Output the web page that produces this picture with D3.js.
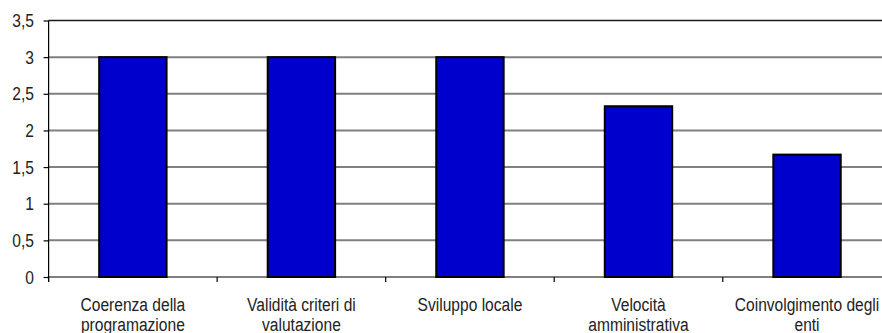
<!DOCTYPE html>
<html>
<head>
<meta charset="utf-8">
<script src="https://cdn.jsdelivr.net/npm/d3@7"></script>
<style>
  html, body { margin: 0; padding: 0; background: #fff; }
  svg { display: block; }
  text { font-family: "Liberation Sans", Arial, sans-serif; fill: #222; }
</style>
</head>
<body>
<svg id="chart" width="882" height="333"></svg>
<script>
const categories = [
  "Coerenza della\nprogramazione",
  "Validità criteri di\nvalutazione",
  "Sviluppo locale",
  "Velocità\namministrativa",
  "Coinvolgimento degli\nenti"
];
const values = [3, 3, 3, 2.33, 1.67];
const yTicks = [0, 0.5, 1, 1.5, 2, 2.5, 3, 3.5];
const yTickLabels = ["0", "0,5", "1", "1,5", "2", "2,5", "3", "3,5"];

(function () {
const svg = d3.select("#chart");
const pLeft = 48.6, pRight = 891.3, pTop = 20.5, pBottom = 277;
const SX = 0.82;      // horizontal condensing (narrow face look)
const FS = 19;

const x = d3.scaleBand().domain(categories).range([pLeft, pRight])
  .paddingInner(0.6).paddingOuter(0.3);
const y = d3.scaleLinear().domain([0, 3.5]).range([pBottom, pTop]);

// gridlines
svg.append("g").selectAll("line").data(yTicks.filter(d => d > 0))
  .join("line")
  .attr("x1", pLeft).attr("x2", 882)
  .attr("y1", d => y(d)).attr("y2", d => y(d))
  .attr("stroke", d => d === 3.5 ? "#1a1a1a" : "#808080")
  .attr("stroke-width", d => d === 3.5 ? 1.5 : 2);

// y axis
const yAxis = d3.axisLeft(y).tickValues(yTicks)
  .tickFormat((d, i) => yTickLabels[i]).tickSizeInner(5).tickSizeOuter(0).tickPadding(10);
const gy = svg.append("g").attr("transform", `translate(${pLeft},0)`).call(yAxis);
gy.select(".domain").remove();
gy.selectAll("line").attr("stroke", "#000").attr("stroke-width", 1.2);
gy.selectAll("text")
  .attr("font-size", FS)
  .attr("font-family", "Liberation Sans, Arial, sans-serif")
  .attr("fill", "#222")
  .attr("x", -14.6 / SX)
  .attr("transform", `scale(${SX},1)`);
svg.append("line").attr("x1", pLeft).attr("x2", pLeft).attr("y1", pTop).attr("y2", pBottom + 5)
  .attr("stroke", "#000").attr("stroke-width", 1.2);

// bars
svg.append("g").selectAll("rect").data(values).join("rect")
  .attr("x", (d, i) => x(categories[i]))
  .attr("width", x.bandwidth())
  .attr("y", d => y(d))
  .attr("height", d => y(0) - y(d))
  .attr("fill", "#0000CC")
  .attr("stroke", "#000")
  .attr("stroke-width", 2);

// x axis line
svg.append("line").attr("x1", pLeft).attr("x2", 882).attr("y1", pBottom).attr("y2", pBottom)
  .attr("stroke", "#000").attr("stroke-width", 1.2);

// category boundary ticks
const step = x.step();
const bounds = d3.range(categories.length + 1).map(i => x(categories[0]) - step * 0.3 + i * step);
svg.append("g").selectAll("line").data(bounds).join("line")
  .attr("x1", d => d).attr("x2", d => d)
  .attr("y1", pBottom).attr("y2", pBottom + 5)
  .attr("stroke", "#000").attr("stroke-width", 1.2);

// category labels
const lg = svg.append("g");
categories.forEach((c, i) => {
  const cx = x(c) + x.bandwidth() / 2;
  const t = lg.append("text")
    .attr("transform", `translate(${cx},310.5) scale(${SX},1)`)
    .attr("x", 0).attr("y", 0)
    .attr("text-anchor", "middle")
    .attr("fill", "#222")
    .attr("font-size", FS);
  c.split("\n").forEach((line, j) => {
    t.append("tspan").attr("x", 0).attr("dy", j === 0 ? 0 : 20.5).text(line);
  });
});
})();
</script>
</body>
</html>
